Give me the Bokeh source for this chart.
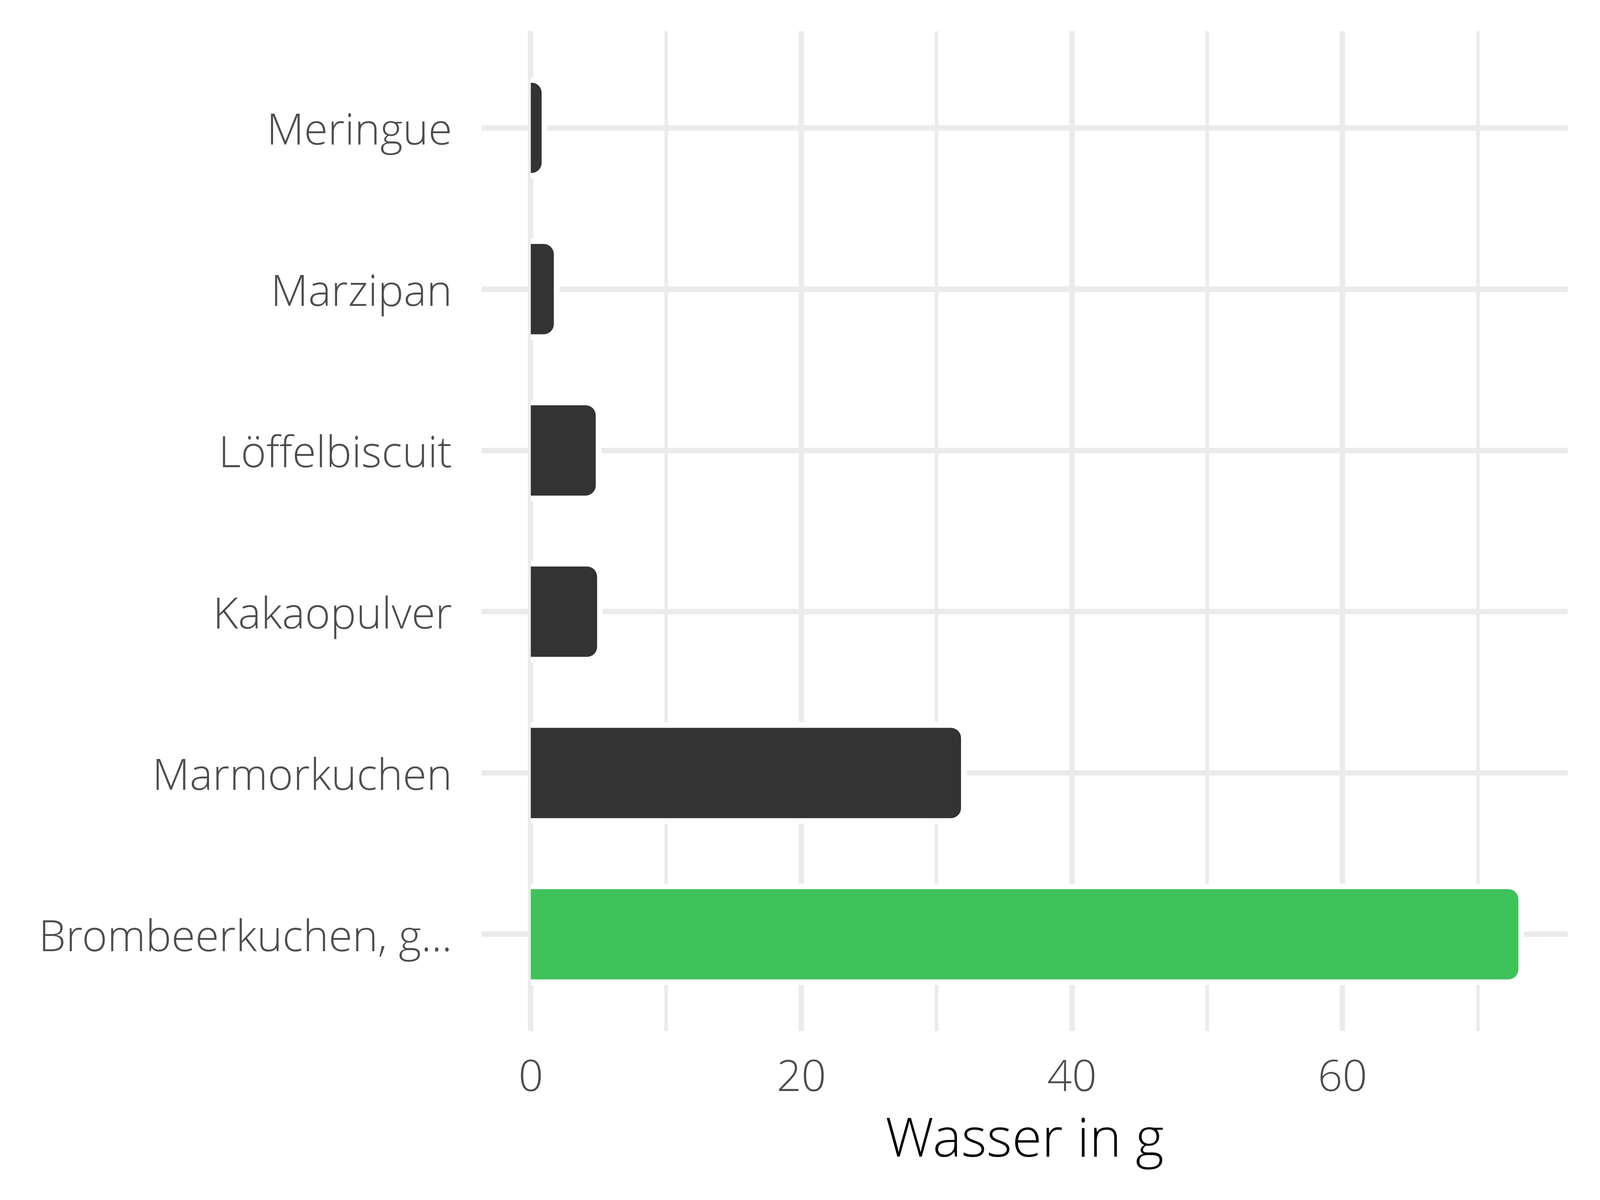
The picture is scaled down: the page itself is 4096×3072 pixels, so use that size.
from bokeh.plotting import figure
from bokeh.models import FactorRange, Range1d, FixedTicker, ColumnDataSource
from bokeh.embed import file_html
from bokeh.resources import INLINE

# Data (top to bottom in the reference)
categories = ["Meringue", "Marzipan", "Löffelbiscuit", "Kakaopulver", "Marmorkuchen", "Brombeerkuchen, g..."]
values = [0.8, 1.7, 4.8, 4.9, 31.8, 73.0]
colors = ["#333333", "#333333", "#333333", "#333333", "#333333", "#3EC35A"]
x_ticks = [0, 20, 40, 60]
x_minor = [10, 30, 50, 70]
x_label = "Wasser in g"

FONT = "'Open Sans Light', 'Open Sans'"
S = 0.853

factors = list(reversed(categories))
vals = list(reversed(values))
cols = list(reversed(colors))

W, H = 4080, 3056
frame_left = int(1445 * S)
frame_right = int(4705 * S)
frame_top = int(93 * S)
frame_bottom = int(3094 * S)

yr = FactorRange(factors=factors, range_padding=0.1, range_padding_units="absolute")
xr = Range1d(-3.65, 76.65)

p = figure(width=W, height=H, y_range=yr, x_range=xr, output_backend="svg",
           toolbar_location=None, min_border_left=frame_left,
           min_border_right=W - frame_right, min_border_top=frame_top,
           min_border_bottom=H - frame_bottom)
p.outline_line_color = None
p.background_fill_color = "white"
p.border_fill_color = "white"

bar_h = 0.56
pad_x = 14.5 / (40.55 * S)
pad_y = 2 * 14.5 / (484 * S)

src = ColumnDataSource(dict(y=factors, right=vals, color=cols,
                            halo=[v + pad_x for v in vals]))
# white halo behind bars (gridlines break around bars)
p.hbar(y="y", left=0, right="halo", height=bar_h + pad_y, source=src,
       fill_color="white", line_color=None,
       border_radius=(0, 40, 40, 0))
p.hbar(y="y", left=0, right="right", height=bar_h, source=src,
       fill_color="color", line_color=None, border_radius=(0, 26, 26, 0))

# X axis
ticker = FixedTicker(ticks=x_ticks, minor_ticks=x_minor)
p.xaxis.ticker = ticker
p.xgrid.ticker = ticker
p.xaxis.axis_line_color = None
p.xaxis.major_tick_line_color = None
p.xaxis.minor_tick_line_color = None
p.xaxis.major_tick_out = 0
p.xaxis.major_tick_in = 0
p.xaxis.major_label_text_font = FONT
p.xaxis.major_label_text_font_size = f"{int(131 * S)}px"
p.xaxis.major_label_text_color = "#4D4D4D"
p.xaxis.major_label_standoff = 70
p.xaxis.axis_label = x_label
p.xaxis.axis_label_text_font = FONT
p.xaxis.axis_label_text_font_size = f"{int(163 * S)}px"
p.xaxis.axis_label_text_font_style = "normal"
p.xaxis.axis_label_text_color = "black"
p.xaxis.axis_label_standoff = 16

# Y axis
p.yaxis.axis_line_color = None
p.yaxis.major_tick_line_color = None
p.yaxis.minor_tick_line_color = None
p.yaxis.major_tick_out = 0
p.yaxis.major_tick_in = 0
p.yaxis.major_label_text_font = FONT
p.yaxis.major_label_text_font_size = f"{int(131 * S)}px"
p.yaxis.major_label_text_color = "#4D4D4D"
p.yaxis.major_label_standoff = int(89 * S)

# Grid
p.xgrid.grid_line_color = "#EBEBEB"
p.xgrid.grid_line_width = 14
p.xgrid.minor_grid_line_color = "#EBEBEB"
p.xgrid.minor_grid_line_width = 9
p.ygrid.grid_line_color = "#EBEBEB"
p.ygrid.grid_line_width = 14

open("out.html", "w").write(file_html(p, INLINE))
